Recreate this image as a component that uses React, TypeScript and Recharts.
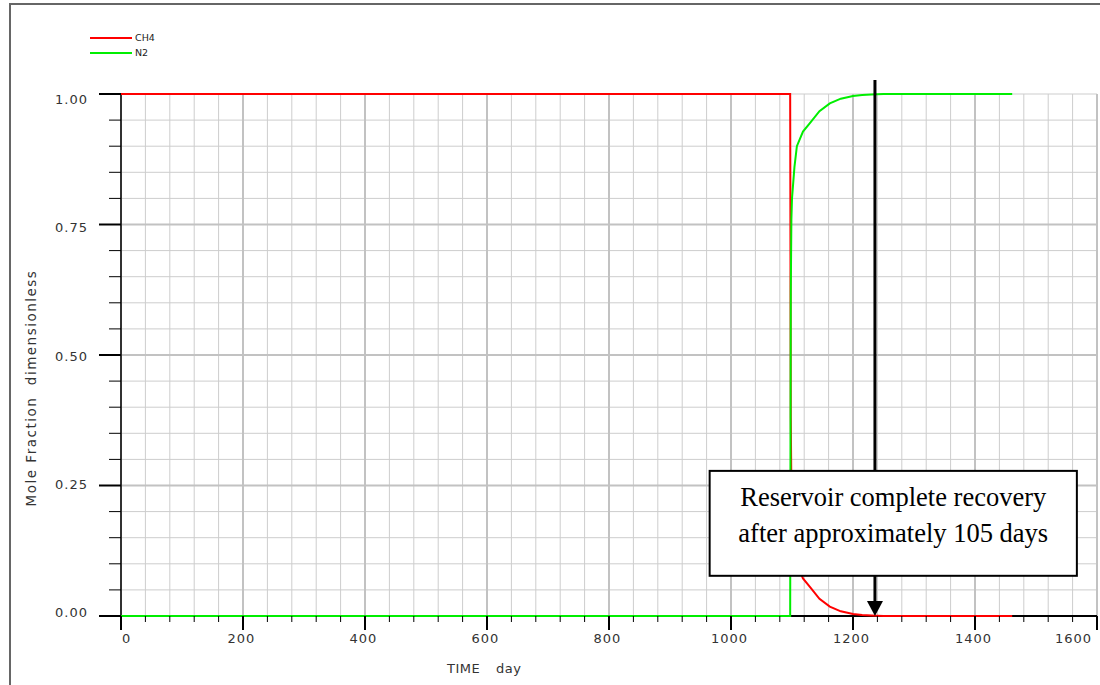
import React from 'react';
import {
  LineChart,
  Line,
  XAxis,
  YAxis,
  CartesianGrid,
  Legend,
  ReferenceLine,
  ReferenceArea,
} from 'recharts';

// values
const timeDays = [0, 1097, 1098, 1099, 1100, 1104, 1108, 1118, 1130, 1145, 1162, 1180, 1200, 1215, 1230, 1250, 1300, 1400, 1461];
const ch4Fraction = [1, 1, 0.38, 0.24, 0.2, 0.14, 0.1, 0.072, 0.055, 0.033, 0.018, 0.009, 0.004, 0.002, 0.001, 0, 0, 0, 0];
const n2Fraction = [0, 0, 0.62, 0.76, 0.8, 0.86, 0.9, 0.928, 0.945, 0.967, 0.982, 0.991, 0.996, 0.998, 0.999, 1, 1, 1, 1];

const xTicks = [
  0, 40, 80, 120, 160, 200, 240, 280, 320, 360, 400, 440, 480, 520, 560, 600, 640, 680, 720, 760, 800,
  840, 880, 920, 960, 1000, 1040, 1080, 1120, 1160, 1200, 1240, 1280, 1320, 1360, 1400, 1440, 1480,
  1520, 1560, 1600,
];
const xMajorTicks = [0, 200, 400, 600, 800, 1000, 1200, 1400, 1600];
const yTicks = [0, 0.05, 0.1, 0.15, 0.2, 0.25, 0.3, 0.35, 0.4, 0.45, 0.5, 0.55, 0.6, 0.65, 0.7, 0.75, 0.8, 0.85, 0.9, 0.95, 1];
const yMajorTicks = [0, 0.25, 0.5, 0.75, 1];

// annotation
const recoveryDay = 1236;
const noteBox = { x1: 965, x2: 1567, y1: 0.077, y2: 0.278 };
const noteLines = ['Reservoir complete recovery', 'after approximately 105 days'];

const chartData = timeDays.map((t, i) => ({ time: t, CH4: ch4Fraction[i], N2: n2Fraction[i] }));

const tickFont = { fontFamily: 'DejaVu Sans', fontSize: 13, fill: '#333', letterSpacing: 1 };

const YTick = ({ x, y, payload }: any) => {
  const v = payload.value;
  const major = yMajorTicks.some((m) => Math.abs(m - v) < 1e-9);
  return (
    <g>
      <line x1={x - (major ? 22 : 12)} y1={y} x2={x} y2={y} stroke="#000" strokeWidth={major ? 2 : 1} />
      {major && (
        <text x={x - 33} y={y} dy={10 - 9 * (1 - v)} textAnchor="end" {...tickFont}>
          {v.toFixed(2)}
        </text>
      )}
    </g>
  );
};

const XTick = ({ x, y, payload }: any) => {
  const v = payload.value;
  const major = xMajorTicks.includes(v);
  let anchor = 'middle';
  let tx = x - 1.5;
  if (v === 0) {
    anchor = 'start';
    tx = x + 1;
  } else if (v === 1600) {
    anchor = 'end';
    tx = x - 5;
  }
  return (
    <g>
      <line x1={x} y1={y} x2={x} y2={y + (major ? 14 : 6)} stroke="#000" strokeWidth={major ? 2 : 1} />
      {major && (
        <text x={tx} y={y + 27} textAnchor={anchor} {...tickFont}>
          {v}
        </text>
      )}
    </g>
  );
};

const LegendContent = ({ payload }: any) => (
  <div style={{ fontFamily: 'DejaVu Sans', fontSize: 9.5, color: '#222' }}>
    {(payload || []).map((entry: any) => (
      <div key={entry.value} style={{ display: 'flex', alignItems: 'center', height: 15 }}>
        <svg width={42} height={4} style={{ display: 'block' }}>
          <line x1={0} y1={2} x2={42} y2={2} stroke={entry.color} strokeWidth={2} />
        </svg>
        <span style={{ marginLeft: 3 }}>{entry.value}</span>
      </div>
    ))}
  </div>
);

const ArrowShape = (props: any) => {
  const { x1, y1, y2 } = props;
  return (
    <g>
      <line x1={x1} y1={y1} x2={x1} y2={y2 - 14} stroke="#000" strokeWidth={3} />
      <polygon points={`${x1 - 8},${y2 - 15} ${x1 + 8},${y2 - 15} ${x1},${y2}`} fill="#000" />
    </g>
  );
};

const NoteShape = (props: any) => {
  const { x, y, width, height } = props;
  const cx = x + width / 2;
  return (
    <g>
      <rect x={x} y={y} width={width} height={height} fill="#fff" stroke="#000" strokeWidth={2} />
      {noteLines.map((line, i) => (
        <text
          key={line}
          x={cx}
          y={y + 35 + i * 36}
          textAnchor="middle"
          fontFamily="Liberation Serif"
          fontSize={26.5}
          fill="#000"
        >
          {line}
        </text>
      ))}
    </g>
  );
};

export default function App() {
  return (
    <div style={{ position: 'absolute', left: 0, top: 0, width: 1100, height: 685, overflow: 'hidden', background: '#fff' }}>
      <div
        style={{
          position: 'absolute',
          left: 9,
          top: 3,
          width: 1200,
          height: 800,
          borderLeft: '2px solid #666',
          borderTop: '2px solid #666',
        }}
      />
      <div style={{ position: 'absolute', left: 0, top: 0 }}>
        <LineChart width={1100} height={685} data={chartData} margin={{ top: 94, right: 3, bottom: 0, left: 0 }}>
          <CartesianGrid stroke="#cdcdcd" strokeWidth={1} />
          {xMajorTicks.map((t) => (
            <ReferenceLine key={`vx-${t}`} x={t} stroke="#c2c2c2" strokeWidth={2} zIndex={-50} />
          ))}
          {yMajorTicks.slice(1, 4).map((t) => (
            <ReferenceLine key={`hy-${t}`} y={t} stroke="#c2c2c2" strokeWidth={2} zIndex={-50} />
          ))}
          <XAxis
            type="number"
            dataKey="time"
            domain={[0, 1600]}
            ticks={xTicks}
            interval={0}
            tickSize={0}
            tickMargin={0}
            tick={XTick}
            tickLine={false}
            axisLine={{ stroke: '#000', strokeWidth: 2 }}
            height={69}
            label={() => (
              <text y={673} fontFamily="DejaVu Sans" fontSize={13} fill="#333" letterSpacing={0.5}>
                <tspan x={447}>TIME</tspan>
                <tspan x={496}>day</tspan>
              </text>
            )}
          />
          <YAxis
            type="number"
            domain={[0, 1]}
            ticks={yTicks}
            interval={0}
            tickSize={0}
            tickMargin={0}
            tick={YTick}
            tickLine={false}
            axisLine={{ stroke: '#000', strokeWidth: 1.5 }}
            width={121}
            label={() => (
              <text
                x={31}
                y={388}
                transform="rotate(-90, 31, 388)"
                textAnchor="middle"
                dominantBaseline="central"
                fontFamily="DejaVu Sans"
                fontSize={13.5}
                fill="#333"
                letterSpacing={1.5}
                style={{ whiteSpace: 'pre' }}
              >
                {'Mole Fraction  dimensionless'}
              </text>
            )}
          />
          <Legend
            layout="vertical"
            align="center"
            verticalAlign="middle"
            content={LegendContent}
            wrapperStyle={{ left: 90, top: 30, width: 'auto' }}
          />
          <Line type="linear" dataKey="CH4" name="CH4" stroke="#ff0000" strokeWidth={2} dot={false} isAnimationActive={false} zIndex={600} />
          <Line type="linear" dataKey="N2" name="N2" stroke="#00ee00" strokeWidth={2} dot={false} isAnimationActive={false} zIndex={610} />
          <ReferenceLine
            segment={[
              { x: recoveryDay, y: 1.027 },
              { x: recoveryDay, y: 0 },
            ]}
            ifOverflow="visible"
            shape={ArrowShape}
            zIndex={1500}
          />
          <ReferenceArea
            x1={noteBox.x1}
            x2={noteBox.x2}
            y1={noteBox.y1}
            y2={noteBox.y2}
            ifOverflow="visible"
            shape={NoteShape}
            zIndex={1600}
          />
        </LineChart>
      </div>
    </div>
  );
}
